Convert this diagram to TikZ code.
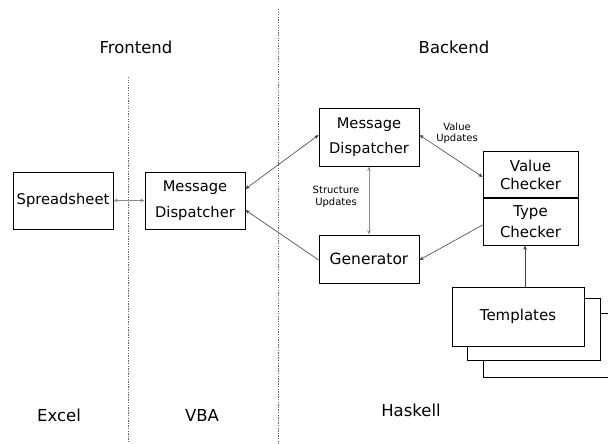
\documentclass[tikz,border=0pt]{standalone}
\usepackage{fontspec}
\setmainfont{DejaVu Sans}
\usetikzlibrary{arrows.meta,calc}
\begin{document}
\begin{tikzpicture}[x=1pt,y=-1pt,
  box/.style={draw=black,line width=0.8pt,inner sep=0pt,fill=white,align=center,font=\fontsize{14.7}{25.5}\selectfont},
  conn/.style={draw=black!75,line width=0.6pt},
  gconn/.style={draw=black!45,line width=0.9pt},
  onetip/.style={-{Stealth[length=4.5pt,width=3.6pt]}},
  twotip/.style={{Stealth[length=4.5pt,width=3.6pt]}-{Stealth[length=4.5pt,width=3.6pt]}},
  divider/.style={draw=black!60,line width=0.8pt,dash pattern=on 1.3pt off 1.3pt},
  heading/.style={font=\fontsize{16.5}{19}\selectfont,inner sep=0pt},
  small/.style={font=\fontsize{10}{11.5}\selectfont,align=center,inner sep=0pt}
]
\useasboundingbox (0,0) rectangle (608,444);
\clip (0,0) rectangle (608,444);

% dividers
\draw[divider] (128,77) -- (128,444);
\draw[divider] (278,9) -- (278,444);

% headings
\node[heading] (hfront) at (136,47) {Frontend};
\node[heading] (hback) at (454,47) {Backend};
\node[heading] (hexcel) at (59,415) {Excel};
\node[heading] (hvba) at (202,415) {VBA};
\node[heading] (hhask) at (411,410) {Haskell};

% boxes
\node[box,minimum width=100pt,minimum height=57pt] (ss) at (63,200.5) {Spreadsheet};
\node[box,minimum width=100pt,minimum height=57pt] (mdl) at (195,200.5) {Message\\Dispatcher};
\node[box,minimum width=100pt,minimum height=58pt] (mdr) at (369,137) {Message\\Dispatcher};
\node[box,minimum width=100pt,minimum height=48pt,font=\fontsize{15.5}{18}\selectfont] (gen) at (369,259) {Generator};
\node[box,minimum width=95pt,minimum height=47pt,font=\fontsize{15}{18}\selectfont] (valchk) at (530.5,174.5) {Value\\Checker};
\node[box,minimum width=95pt,minimum height=47pt,font=\fontsize{15}{21}\selectfont] (typechk) at (530.5,221.5) {Type\\Checker};
\draw[line width=2pt] (valchk.south west) -- (valchk.south east);

% templates stack
\node[box,minimum width=140pt,minimum height=64pt] (tpl3) at (553,345) {};
\node[box,minimum width=133pt,minimum height=62pt] (tpl2) at (533.5,329) {};
\node[box,minimum width=132pt,minimum height=59pt,font=\fontsize{15}{18}\selectfont] (tpl1) at (518,316.5) {Templates};

% small labels
\node[small] (lval) at (457,133) {Value\\Updates};
\node[small] (lstruct) at (336,197) {Structure\\Updates};

% connectors
\draw[gconn,twotip] (ss.east) -- (mdl.west);
\draw[conn,twotip] ([yshift=11.5pt]mdl.east) -- ([yshift=2pt]mdr.west);
\draw[conn,onetip] ([yshift=-1pt]gen.west) -- ([yshift=-9.5pt]mdl.east);
\draw[gconn,twotip] (mdr.south) -- (gen.north);
\draw[conn,twotip] ([yshift=2pt]mdr.east) -- ([yshift=-2.5pt]valchk.west);
\draw[conn,onetip] ([yshift=-3.5pt]typechk.west) -- ([yshift=-1pt]gen.east);
\draw[conn,onetip] ([xshift=7pt]tpl1.north) -- ([xshift=-5.5pt]typechk.south);
\end{tikzpicture}
\end{document}
